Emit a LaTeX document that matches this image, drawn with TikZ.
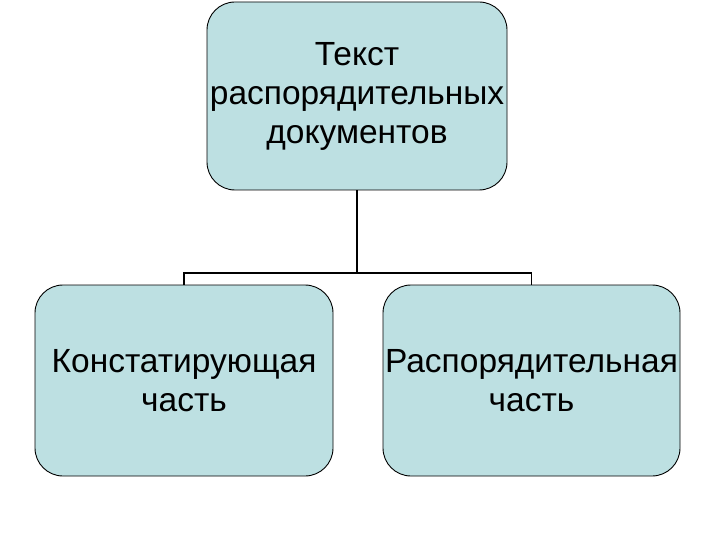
\documentclass[tikz,border=0pt]{standalone}
\usepackage{fontspec}
\setmainfont{Liberation Sans}
\definecolor{boxfill}{RGB}{189,224,226}
\begin{document}
\begin{tikzpicture}[x=1pt,y=-1pt,
  block/.style={draw,line width=0.9pt,fill=boxfill,rounded corners=28pt,
    align=center,inner sep=0pt,
    font=\fontsize{33.5}{39}\selectfont}]
  \useasboundingbox (0,0) rectangle (720,540);
  \node[block,minimum width=300pt,minimum height=188pt] (top) at (357,96)
    {Текст\\распорядительных\\документов};
  \node[block,minimum width=298pt,minimum height=191pt] (left) at (184,380.5)
    {Констатирующая\\часть};
  \node[block,minimum width=297pt,minimum height=191pt] (right) at (531.5,380.5)
    {Распорядительная\\часть};
  \coordinate (fork) at (357,273);
  \draw[line width=1.4pt] (top.south) -- (fork);
  \draw[line width=1.4pt] (left.north) |- (fork) -| (right.north);
\end{tikzpicture}
\end{document}
